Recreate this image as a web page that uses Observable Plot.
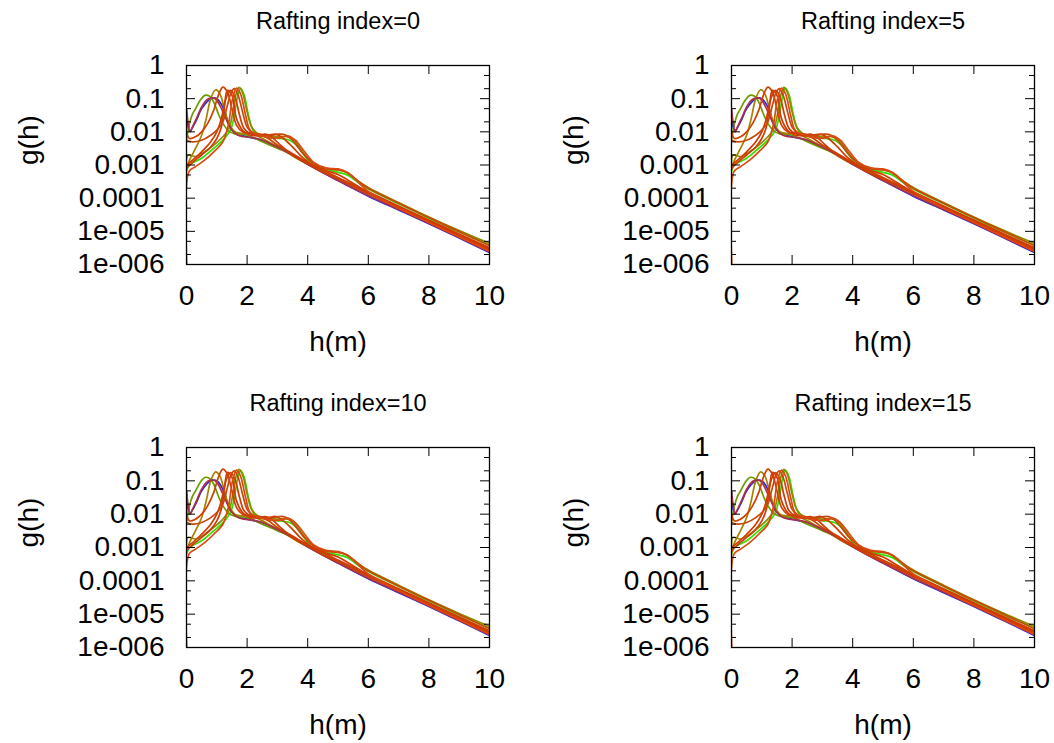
<!DOCTYPE html>
<html><head><meta charset="utf-8">
<script src="https://cdn.jsdelivr.net/npm/d3@7"></script>
<script src="https://cdn.jsdelivr.net/npm/@observablehq/plot@0.6"></script>
<style>
body{margin:0;background:#fff;}
#wrap{position:relative;width:1054px;height:743px;overflow:hidden;background:#fff;}
.panel{position:absolute;}
</style></head><body><div id="wrap"></div>
<script>
// ---- data ----
const panelTitles = ["Rafting index=0", "Rafting index=5", "Rafting index=10", "Rafting index=15"];
const xTicks = [0, 2, 4, 6, 8, 10];
const xTickLabels = ["0", "2", "4", "6", "8", "10"];
const yMajor = [1, 0.1, 0.01, 0.001, 0.0001, 1e-5, 1e-6];
const yTickLabels = ["1", "0.1", "0.01", "0.001", "0.0001", "1e-005", "1e-006"];
const yMinor = [0.5, 0.2, 0.05, 0.02, 0.005, 0.002, 5e-4, 2e-4, 5e-5, 2e-5, 5e-6, 2e-6];

const h10 = [0, 0.1, 0.3, 0.5, 0.8, 1.0, 1.2, 1.5, 2.0, 2.5, 3.0, 3.5, 4.0, 5.0, 6.0, 7.0, 8.0, 9.0, 10.0];
const g10 = [0.045, 0.0105, 0.02, 0.05, 0.1, 0.1, 0.056, 0.0112, 0.0071, 0.0056, 0.0035, 0.002, 0.00105, 0.00034, 0.000115, 4.4e-5, 1.7e-5, 6.3e-6, 2.3e-6];
const h8 = [0, 0.1, 0.5, 0.9, 1.2, 1.45, 1.58, 1.68, 1.78, 1.9, 2.05, 2.2, 2.4, 2.8, 3.1, 3.4, 3.6, 3.85, 4.1, 4.5, 4.9, 5.3, 5.7, 6.0, 7.0, 8.0, 9.0, 10.0];
const g8 = [0.00063, 0.001, 0.0016, 0.0032, 0.0056, 0.0112, 0.032, 0.11, 0.21, 0.13, 0.03, 0.0112, 0.0079, 0.0066, 0.0063, 0.0056, 0.0042, 0.0022, 0.0011, 0.00075, 0.00063, 0.0005, 0.00028, 0.00019, 6.8e-5, 2.5e-5, 9.5e-6, 3.8e-6];
const h1 = [0, 0.1, 0.2, 0.3, 0.45, 0.6, 0.75, 0.9, 1.05, 1.2, 1.4, 1.6, 2.0, 2.5, 3.0, 3.5, 4.0, 5.0, 6.0, 7.0, 8.0, 9.0, 10.0];
const g1 = [0.0056, 0.018, 0.035, 0.05, 0.089, 0.126, 0.12, 0.079, 0.035, 0.018, 0.0105, 0.0087, 0.0079, 0.005, 0.0032, 0.002, 0.00112, 0.0004, 0.00014, 5.3e-5, 2.0e-5, 7.6e-6, 2.9e-6];
const h7 = [0, 0.05, 0.3, 0.6, 0.9, 1.2, 1.4, 1.52, 1.62, 1.73, 1.85, 2.0, 2.15, 2.35, 2.7, 3.0, 3.3, 3.5, 3.75, 4.0, 4.4, 4.8, 5.2, 5.6, 6.0, 7.0, 8.0, 9.0, 10.0];
const g7 = [0.001, 0.002, 0.0018, 0.0025, 0.004, 0.0071, 0.0126, 0.035, 0.12, 0.22, 0.15, 0.04, 0.014, 0.0089, 0.0076, 0.0071, 0.0072, 0.0063, 0.0032, 0.0016, 0.00085, 0.00075, 0.00064, 0.00036, 0.00021, 7.4e-5, 2.7e-5, 1.05e-5, 4.3e-6];
const h3 = [0, 0.1, 0.3, 0.5, 0.65, 0.8, 0.96, 1.1, 1.25, 1.4, 1.6, 1.9, 2.1, 2.4, 2.8, 3.2, 3.6, 4.0, 5.0, 6.0, 7.0, 8.0, 9.0, 10.0];
const g3 = [0.00071, 0.0014, 0.0032, 0.0079, 0.025, 0.1, 0.186, 0.141, 0.05, 0.018, 0.01, 0.0089, 0.0095, 0.0071, 0.0045, 0.0028, 0.00166, 0.00105, 0.00038, 0.00014, 5.2e-5, 1.95e-5, 7.4e-6, 2.8e-6];
const h2 = [0, 0.05, 0.12, 0.2, 0.35, 0.5, 0.65, 0.8, 0.95, 1.1, 1.3, 1.5, 1.7, 1.9, 2.2, 2.5, 3.0, 3.5, 4.0, 5.0, 6.0, 7.0, 8.0, 9.0, 10.0];
const g2 = [0.05, 0.02, 0.01, 0.014, 0.028, 0.056, 0.089, 0.105, 0.1, 0.063, 0.025, 0.0112, 0.0079, 0.0071, 0.0066, 0.0056, 0.0035, 0.002, 0.00105, 0.00034, 0.00012, 4.6e-5, 1.75e-5, 6.5e-6, 2.4e-6];
const h4 = [0, 0.1, 0.3, 0.5, 0.7, 0.9, 1.05, 1.2, 1.35, 1.5, 1.65, 1.85, 2.1, 2.4, 2.7, 3.0, 3.5, 4.0, 5.0, 6.0, 7.0, 8.0, 9.0, 10.0];
const g4 = [0.01, 0.0063, 0.0071, 0.01, 0.018, 0.045, 0.126, 0.224, 0.158, 0.05, 0.016, 0.01, 0.0089, 0.0085, 0.0063, 0.004, 0.0022, 0.0012, 0.00042, 0.000155, 5.8e-5, 2.2e-5, 8.3e-6, 3.2e-6];
const h11 = [0, 0.2, 0.5, 0.8, 1.0, 1.15, 1.25, 1.35, 1.5, 1.65, 1.85, 2.1, 2.4, 2.6, 2.8, 3.1, 3.5, 4.0, 4.5, 5.0, 6.0, 7.0, 8.0, 9.0, 10.0];
const g11 = [0.0008, 0.0012, 0.002, 0.0035, 0.0063, 0.014, 0.056, 0.178, 0.126, 0.025, 0.0112, 0.0079, 0.0079, 0.0085, 0.0071, 0.004, 0.002, 0.0011, 0.0006, 0.00038, 0.000135, 5.1e-5, 1.9e-5, 7.2e-6, 2.7e-6];
const h5 = [0, 0.2, 0.5, 0.8, 1.0, 1.15, 1.3, 1.45, 1.6, 1.75, 1.9, 2.1, 2.4, 2.7, 2.95, 3.2, 3.5, 3.8, 4.2, 4.6, 5.0, 5.4, 6.0, 7.0, 8.0, 9.0, 10.0];
const g5 = [0.001, 0.0014, 0.0025, 0.005, 0.01, 0.025, 0.1, 0.178, 0.112, 0.032, 0.0126, 0.0089, 0.0076, 0.0079, 0.0085, 0.0063, 0.0035, 0.0018, 0.00095, 0.00068, 0.00052, 0.00032, 0.00015, 5.5e-5, 2.1e-5, 7.9e-6, 3.0e-6];
const h6 = [0, 0.2, 0.5, 0.8, 1.0, 1.2, 1.35, 1.48, 1.58, 1.7, 1.85, 2.0, 2.2, 2.5, 2.8, 3.05, 3.25, 3.5, 3.85, 4.2, 4.6, 5.0, 5.3, 5.7, 6.0, 7.0, 8.0, 9.0, 10.0];
const g6 = [0.0056, 0.005, 0.0056, 0.0079, 0.0112, 0.02, 0.063, 0.16, 0.2, 0.13, 0.04, 0.014, 0.0089, 0.0079, 0.0078, 0.0085, 0.0082, 0.0055, 0.0022, 0.0011, 0.00078, 0.00072, 0.0006, 0.00031, 0.0002, 7.0e-5, 2.6e-5, 9.8e-6, 3.7e-6];
const h9 = [0.06, 0.08, 0.3, 0.6, 0.9, 1.2, 1.38, 1.52, 1.65, 1.78, 1.95, 2.1, 2.4, 2.8, 3.1, 3.35, 3.6, 3.9, 4.2, 4.6, 5.0, 5.3, 5.6, 6.0, 7.0, 8.0, 9.0, 10.0];
const g9 = [1e-7, 0.00063, 0.00089, 0.0014, 0.0025, 0.005, 0.016, 0.1, 0.209, 0.141, 0.032, 0.0112, 0.0079, 0.0066, 0.0066, 0.0076, 0.0055, 0.0025, 0.0012, 0.00082, 0.00076, 0.0006, 0.00035, 0.00016, 5.0e-5, 1.85e-5, 6.8e-6, 2.5e-6];

// drawing order (first = underneath)
const seriesList = [
  {h: h10, g: g10, color: "#2828e0"},
  {h: h8, g: g8, color: "#2fe000"},
  {h: h1, g: g1, color: "#6c9c00"},
  {h: h7, g: g7, color: "#8c8c00"},
  {h: h3, g: g3, color: "#a88000"},
  {h: h2, g: g2, color: "#a83048"},
  {h: h4, g: g4, color: "#d04000"},
  {h: h11, g: g11, color: "#cc3c08"},
  {h: h5, g: g5, color: "#d23a00"},
  {h: h6, g: g6, color: "#c84808"},
  {h: h9, g: g9, color: "#dc4810"}
];

// ---- layout ----
const layouts = [
  {left: 0,   top: 0,   width: 527, height: 371, ml: 186, mr: 38, mt: 65, mb: 107},
  {left: 527, top: 0,   width: 527, height: 371, ml: 204, mr: 20, mt: 65, mb: 107},
  {left: 0,   top: 371, width: 527, height: 372, ml: 186, mr: 38, mt: 76, mb: 96},
  {left: 527, top: 371, width: 527, height: 372, ml: 204, mr: 20, mt: 76, mb: 96}
];
const FONT = "'Liberation Sans', Arial, sans-serif";

function makePanel(p, title) {
  const fw = p.width - p.ml - p.mr;
  const fh = p.height - p.mt - p.mb;
  const lineMarks = seriesList.map(s =>
    Plot.line(s.h.map((h, i) => ({h, g: s.g[i]})), {
      x: "h", y: "g", stroke: s.color, strokeWidth: 1.7, curve: "catmull-rom", clip: true
    })
  );
  return Plot.plot({
    width: p.width, height: p.height,
    marginLeft: p.ml, marginRight: p.mr, marginTop: p.mt, marginBottom: p.mb,
    x: {domain: [0, 10], axis: null},
    y: {type: "log", domain: [1e-6, 1], axis: null},
    style: {fontFamily: FONT, background: "white", color: "black"},
    marks: [
      ...lineMarks,
      Plot.tickY(yMajor, {y: d => d, insetRight: fw - 9, stroke: "black"}),
      Plot.tickY(yMajor, {y: d => d, insetLeft: fw - 9, stroke: "black"}),
      Plot.tickY(yMinor, {y: d => d, insetRight: fw - 5, stroke: "black"}),
      Plot.tickY(yMinor, {y: d => d, insetLeft: fw - 5, stroke: "black"}),
      Plot.tickX(xTicks, {x: d => d, insetBottom: fh - 9, stroke: "black"}),
      Plot.tickX(xTicks, {x: d => d, insetTop: fh - 9, stroke: "black"}),
      Plot.frame({stroke: "black", strokeWidth: 1.3}),
      Plot.text(yTickLabels, {y: (d, i) => yMajor[i], text: d => d, frameAnchor: "left", textAnchor: "end", lineAnchor: "middle", dx: -22, fontSize: 28, fill: "black"}),
      Plot.text(xTickLabels, {x: (d, i) => xTicks[i], text: d => d, frameAnchor: "bottom", lineAnchor: "middle", dy: 32, fontSize: 28, fill: "black"}),
      Plot.text([title], {text: d => d, frameAnchor: "top", lineAnchor: "middle", dy: -44, fontSize: 23.5, fill: "black"}),
      Plot.text(["g(h)"], {text: d => d, frameAnchor: "left", lineAnchor: "middle", dx: -157, rotate: -90, fontSize: 28, fill: "black"}),
      Plot.text(["h(m)"], {text: d => d, frameAnchor: "bottom", lineAnchor: "middle", dy: 77.5, fontSize: 28, fill: "black"})
    ]
  });
}

const wrap = document.getElementById("wrap");
layouts.forEach((p, k) => {
  const div = document.createElement("div");
  div.className = "panel";
  div.style.left = p.left + "px";
  div.style.top = p.top + "px";
  div.appendChild(makePanel(p, panelTitles[k]));
  wrap.appendChild(div);
});
</script>
</body></html>
